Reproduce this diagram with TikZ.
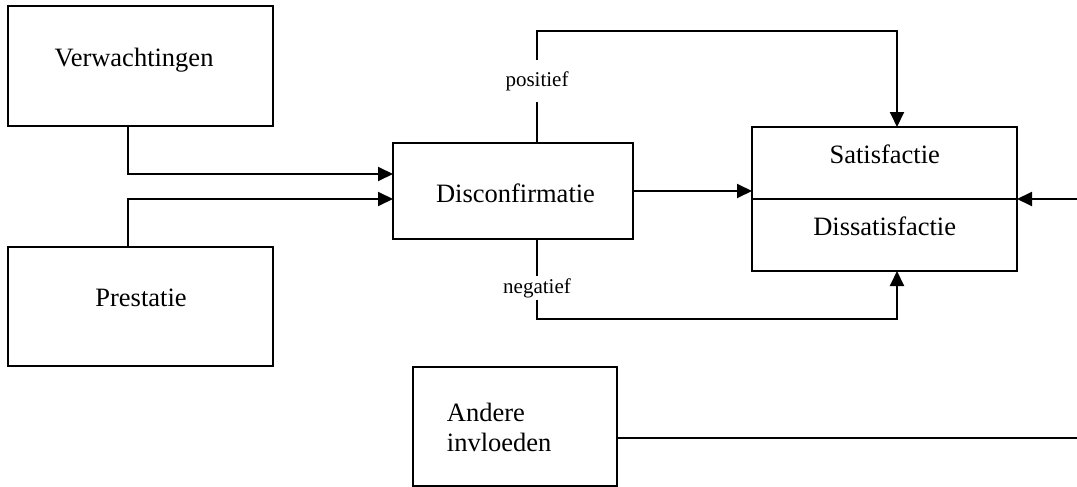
\documentclass[tikz,border=0pt]{standalone}
\usepackage{fontspec}
\setmainfont{Liberation Serif}
\usetikzlibrary{arrows.meta,positioning,calc}

\begin{document}
\begin{tikzpicture}[
			x = 1pt, y = -1pt,
			box/.style = {draw, line width = 2pt, inner sep = 0pt, outer sep = 0pt},
			lbl/.style = {font = \fontsize{26.5}{30}\selectfont, inner sep = 0pt},
			klein/.style = {font = \fontsize{21}{24}\selectfont},
			conn/.style = {line width = 2pt},
			pijl/.style = {conn, -{Triangle[length=15pt,width=14pt]}}]

			\useasboundingbox (0,0) rectangle (1077,487);

			% boxes
			\node[box, minimum width=265pt, minimum height=120pt] (verw) at (140.5,66) {};
			\node[box, minimum width=265pt, minimum height=119pt] (prest) at (140.5,306.5) {};
			\node[box, minimum width=240pt, minimum height=96pt] (disc) at (513,191) {};
			\node[box, minimum width=265pt, minimum height=72pt] (sat) at (884.5,163) {};
			\node[box, minimum width=265pt, minimum height=72pt] (dis) at (884.5,235) {};
			\node[box, minimum width=204pt, minimum height=119pt] (ander) at (515,426.5) {};

			% texts
			\node[lbl, anchor=base] (verwtxt) at (134,66.7) {Verwachtingen};
			\node[lbl, anchor=base] (presttxt) at (141,306) {Prestatie};
			\node[lbl, anchor=base] (disctxt) at (515.5,202) {Disconfirmatie};
			\node[lbl, anchor=base] (sattxt) at (884.7,163) {Satisfactie};
			\node[lbl, anchor=base] (distxt) at (884.7,235) {Dissatisfactie};
			\node[lbl, align=left, anchor=west] (andertxt) at (446.7,427) {Andere\\invloeden};

			\node[klein, anchor=base, inner sep=11pt] (pos) at (537,86) {positief};
			\node[klein, anchor=base, inner sep=2pt] (neg) at (537,293) {negatief};

			\coordinate (boven) at (537,31);
			\coordinate (onder) at (537,319);
			\coordinate (rechts) at (1077,199);
			\coordinate (rechtsonder) at (1077,438);

			% connectors
			\draw[pijl] ($(verw.south)+(-12.5,0)$) |- ($(disc.west)+(0,-17)$);
			\draw[pijl] ($(prest.north)+(-12.5,0)$) |- ($(disc.west)+(0,8)$);
			\draw[pijl] (disc.east) -- (disc.east -| sat.west);

			\draw[conn] (disc.north -| pos) -- (pos.south);
			\draw[pijl] (pos.north) -- (boven) -| ($(sat.north)+(12.5,0)$);
			\draw[conn] (disc.south -| neg) -- (neg.north);
			\draw[pijl] (neg.south) -- (onder) -| ($(dis.south)+(12.5,0)$);

			\draw[pijl] (rechts) -- (sat.south east);
			\draw[conn] (ander.east |- rechtsonder) -- (rechtsonder);

		\end{tikzpicture}
\end{document}
